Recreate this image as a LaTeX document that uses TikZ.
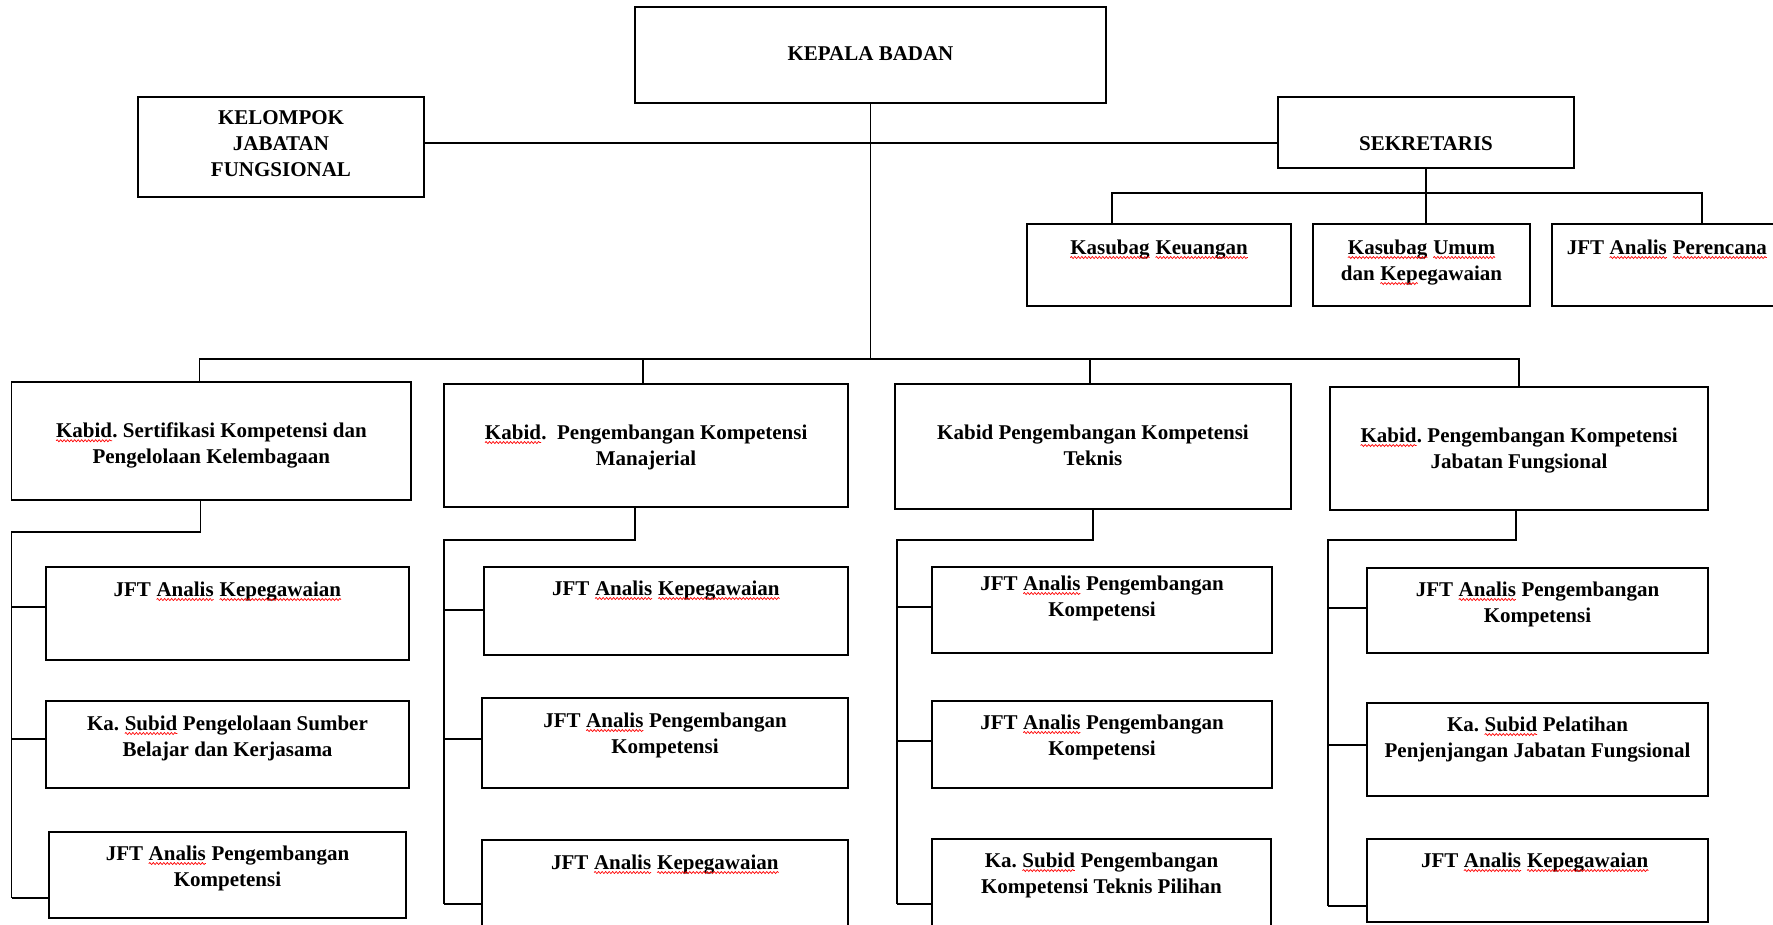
\documentclass[tikz,border=0pt]{standalone}
\usepackage{fontspec}
\setmainfont{Liberation Serif}
\usetikzlibrary{decorations.pathmorphing}
\frenchspacing
% garis merah bergelombang di bawah kata
\newcommand\salah[1]{\tikz[baseline=(w.base)]{%
		\node[inner sep=0pt, outer sep=0pt, minimum size=0pt, draw=none, anchor=base] (w) {#1};
		\draw[red, line width=0.7pt, decorate, decoration={snake, amplitude=1pt, segment length=3.5pt}]
		([yshift=-3.5pt]w.base west) -- ([yshift=-3.5pt]w.base east);}}

\begin{document}
\begin{tikzpicture}[x=1pt, y=-1pt,
		kotak/.style={draw, line width=1.5pt, inner sep=0pt},
		teks/.style={anchor=north, inner sep=0pt, align=center,
				font=\fontsize{21}{26}\selectfont\bfseries},
		garis/.style={line width=1.2pt}]

		\useasboundingbox (0,0) rectangle (1773,924);

		% kotak jabatan: nama/x1/y1/x2/y2/jarak teks/teks
		\foreach \n/\xa/\ya/\xb/\yb/\dy/\txt in {
				kepala/635/7/1106/103/40/{KEPALA BADAN},
				kjf/138/97/424/197/14/{KELOMPOK\\JABATAN\\FUNGSIONAL},
				sek/1278/97/1574/168/40/{SEKRETARIS},
				keu/1027/224/1291/306/16/{\salah{Kasubag} \salah{Keuangan}},
				umum/1313/224/1530/306/16/{\salah{Kasubag} \salah{Umum}\\dan \salah{Kep}egawaian},
				jfp/1552/224/1782/306/16/{JFT \salah{Analis} \salah{Perencana}},
				kb1/11.5/382/411/500/41/{\salah{Kabid}. Sertifikasi Kompetensi dan\\Pengelolaan Kelembagaan},
				kb2/444/384/848/507/41/{\salah{Kabid}.\ \ Pengembangan Kompetensi\\Manajerial},
				kb3/895/384/1291/509/41/{Kabid Pengembangan Kompetensi\\Teknis},
				kb4/1330/387/1708/510/41/{\salah{Kabid}. Pengembangan Kompetensi\\Jabatan Fungsional},
				c1-1/46/567/409/660/15/{JFT \salah{Analis} \salah{Kepegawaian}},
				c1-2/46/701/409/788/15/{Ka. \salah{Subid} Pengelolaan Sumber\\Belajar dan Kerjasama},
				c1-3/49/832/406/918/14/{JFT \salah{Analis} Pengembangan\\Kompetensi},
				c2-1/484/567/848/655/14/{JFT \salah{Analis} \salah{Kepegawaian}},
				c2-2/482/698/848/788/15/{JFT \salah{Analis} Pengembangan\\Kompetensi},
				c2-3/482/840/848/970/15/{JFT \salah{Analis} \salah{Kepegawaian}},
				c3-1/932/567/1272/653/9/{JFT \salah{Analis} Pengembangan\\Kompetensi},
				c3-2/932/701/1272/788/14/{JFT \salah{Analis} Pengembangan\\Kompetensi},
				c3-3/932/839/1271/970/14/{Ka. \salah{Subid} Pengembangan\\Kompetensi Teknis Pilihan},
				c4-1/1367/568/1708/653/14/{JFT \salah{Analis} Pengembangan\\Kompetensi},
				c4-2/1367/703/1708/796/14/{Ka. \salah{Subid} Pelatihan\\Penjenjangan Jabatan Fungsional},
				c4-3/1367/839/1708/922/14/{JFT \salah{Analis} \salah{Kepegawaian}}
			} {
				\node[kotak, minimum width={\xb-\xa}, minimum height={\yb-\ya},
					label={[teks, yshift=-\dy]north:{\txt}}]
				(\n) at ({(\xa+\xb)/2}, {(\ya+\yb)/2}) {};
			}

		\coordinate (bus) at (867,359);
		\coordinate (hjf) at (867,143);
		\coordinate (sekbus) at (1426,193);

		\draw[garis] (kepala.south) -- (kepala.south |- bus);
		\draw[garis] (kjf.east |- hjf) -- (sek.west |- hjf);
		\draw[garis] ([xshift=-12pt]kb1.north) |- (bus) -| (kb4.north);
		\draw[garis] ([xshift=-3pt]kb2.north) -- ([xshift=-3pt]kb2.north |- bus);
		\draw[garis] ([xshift=-3pt]kb3.north) -- ([xshift=-3pt]kb3.north |- bus);

		% sekretariat
		\draw[garis] (sekbus |- sek.south) -- (sekbus);
		\draw[garis] ([xshift=-47pt]keu.north) |- (sekbus) -| ([xshift=35pt]jfp.north);
		\draw[garis] (sekbus) -- (sekbus |- umum.north);

		% bidang: nomor/geser/x tulang/y tulang/y anak 1/2/3
		\foreach \k/\gx/\sx/\sy/\ya/\yb/\yc in {
				1/-11/11.5/532/607/739/898,
				2/-11/444/540/610/739/904,
				3/0/897/540/607/741/904,
				4/-3/1328/540/608/745/906
			} {
				\coordinate (sp\k) at (\sx,\sy);
				\draw[garis] ([xshift=\gx]kb\k.south) |- (sp\k) -- (sp\k |- 0,\yc);
				\foreach \j/\y in {1/\ya, 2/\yb, 3/\yc}
					\draw[garis] (sp\k |- 0,\y) -- (c\k-\j.west |- 0,\y);
			}
	\end{tikzpicture}
\end{document}
